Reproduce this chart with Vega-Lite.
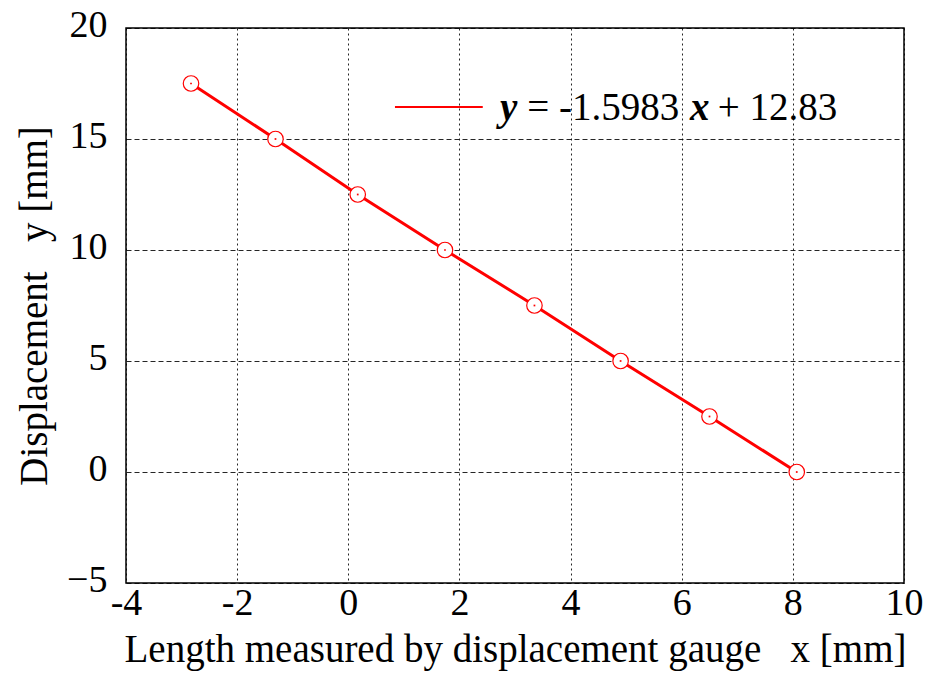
{
  "$schema": "https://vega.github.io/schema/vega-lite/v6.json",
  "autosize": "none",
  "width": 778,
  "height": 555,
  "padding": {"left": 126, "top": 28, "right": 21, "bottom": 92},
  "background": "white",
  "config": {
    "font": "Liberation Serif",
    "view": {"stroke": "black", "strokeWidth": 1.5},
    "axis": {
      "labelFont": "Liberation Serif",
      "titleFont": "Liberation Serif",
      "labelColor": "black",
      "titleColor": "black",
      "titleFontWeight": "normal",
      "domain": false,
      "ticks": false,
      "gridColor": "black",
      "gridOpacity": 0.85,
      "gridWidth": 1
    }
  },
  "datasets": {
    "points": [
      {"x": -2.83, "y": 17.5},
      {"x": -1.31, "y": 15},
      {"x": 0.17, "y": 12.5},
      {"x": 1.74, "y": 10},
      {"x": 3.35, "y": 7.5},
      {"x": 4.9, "y": 5},
      {"x": 6.5, "y": 2.5},
      {"x": 8.07, "y": 0}
    ],
    "legendLine": [{"x": 0.84, "x2": 2.42, "y": 16.44}],
    "legendBold": [
      {"x": 2.73, "y": 15.86, "label": "y"},
      {"x": 6.15, "y": 15.86, "label": "x"}
    ],
    "legendNormal": [
      {"x": 3.22, "y": 15.86, "label": "= -1.5983"},
      {"x": 6.65, "y": 15.86, "label": "+ 12.83"}
    ]
  },
  "layer": [
    {
      "data": {"name": "points"},
      "mark": {"type": "line", "color": "red", "strokeWidth": 3},
      "encoding": {
        "x": {
          "field": "x", "type": "quantitative",
          "scale": {"domain": [-4, 10], "nice": false, "zero": false},
          "axis": {
            "values": [-4, -2, 0, 2, 4, 6, 8, 10],
            "format": "d",
            "title": "Length measured by displacement gauge\u00a0\u00a0\u00a0x [mm]",
            "labelFontSize": 38,
            "titleFontSize": 39,
            "labelPadding": 1,
            "titlePadding": 8,
            "labelFlush": false,
            "gridDash": [2, 3],
            "labelExpr": "replace(datum.label, '−', '-')"
          }
        },
        "y": {
          "field": "y", "type": "quantitative",
          "scale": {"domain": [-5, 20], "nice": false, "zero": false},
          "axis": {
            "values": [-5, 0, 5, 10, 15, 20],
            "format": "d",
            "title": "Displacement\u00a0\u00a0\u00a0y [mm]",
            "labelFontSize": 38,
            "titleFontSize": 39,
            "labelPadding": 19,
            "labelOffset": -3,
            "titlePadding": 12,
            "labelFlush": false,
            "gridDash": [5, 3]
          }
        }
      }
    },
    {
      "data": {"name": "points"},
      "mark": {"type": "point", "shape": "circle", "filled": false, "fill": "white", "fillOpacity": 1, "stroke": "red", "strokeWidth": 1.2, "size": 240, "opacity": 1},
      "encoding": {
        "x": {"field": "x", "type": "quantitative"},
        "y": {"field": "y", "type": "quantitative"}
      }
    },
    {
      "data": {"name": "points"},
      "mark": {"type": "point", "shape": "square", "filled": true, "color": "red", "size": 3, "opacity": 1},
      "encoding": {
        "x": {"field": "x", "type": "quantitative"},
        "y": {"field": "y", "type": "quantitative"}
      }
    },
    {
      "data": {"name": "legendLine"},
      "mark": {"type": "rule", "color": "red", "strokeWidth": 2},
      "encoding": {
        "x": {"field": "x", "type": "quantitative"},
        "x2": {"field": "x2"},
        "y": {"field": "y", "type": "quantitative"}
      }
    },
    {
      "data": {"name": "legendBold"},
      "mark": {"type": "text", "font": "Liberation Serif", "fontSize": 39, "fontWeight": "bold", "fontStyle": "italic", "align": "left", "baseline": "alphabetic", "color": "black"},
      "encoding": {
        "x": {"field": "x", "type": "quantitative"},
        "y": {"field": "y", "type": "quantitative"},
        "text": {"field": "label"}
      }
    },
    {
      "data": {"name": "legendNormal"},
      "mark": {"type": "text", "font": "Liberation Serif", "fontSize": 39, "align": "left", "baseline": "alphabetic", "color": "black"},
      "encoding": {
        "x": {"field": "x", "type": "quantitative"},
        "y": {"field": "y", "type": "quantitative"},
        "text": {"field": "label"}
      }
    }
  ]
}
